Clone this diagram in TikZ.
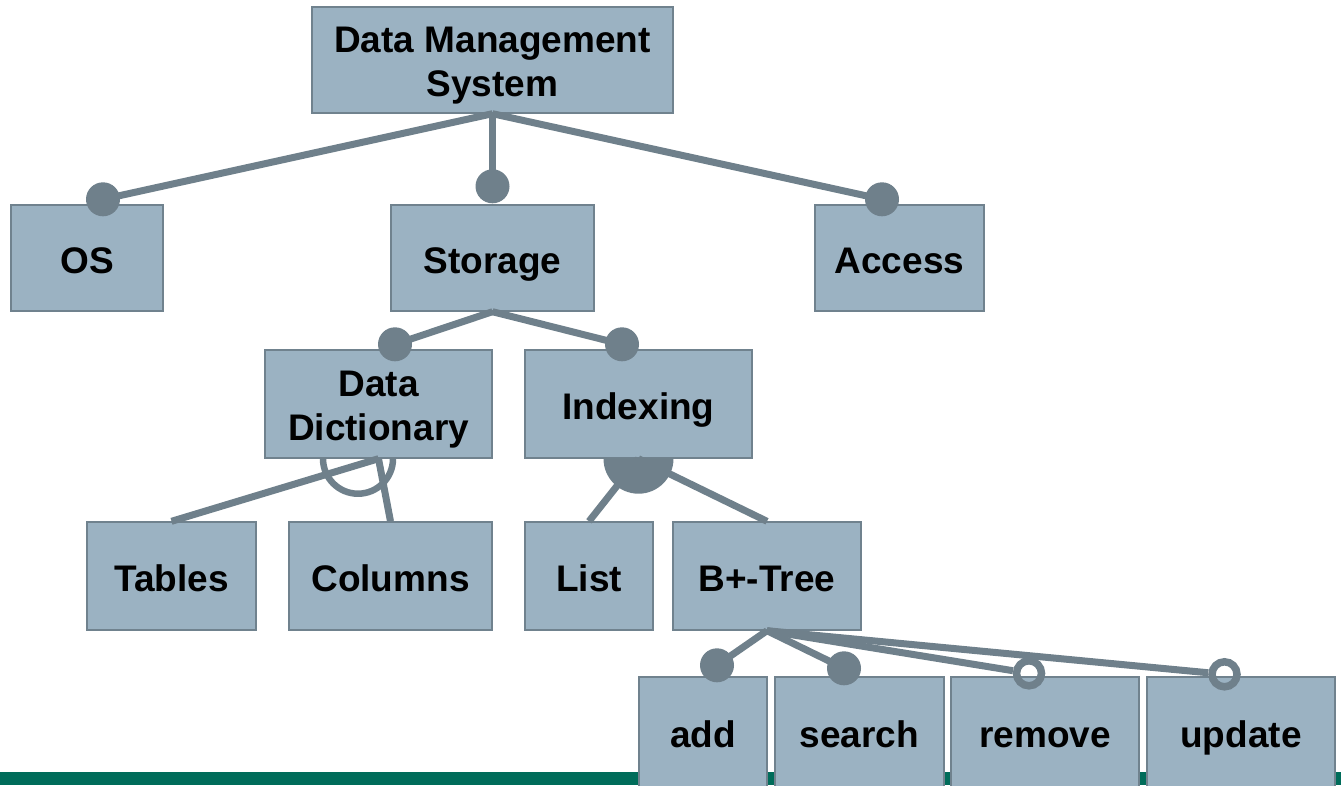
\documentclass[tikz,border=0pt]{standalone}
\usepackage{fontspec}
\setmainfont{Liberation Sans}
\definecolor{boxfill}{RGB}{155,178,194}
\definecolor{boxline}{RGB}{112,130,142}
\definecolor{linkcol}{RGB}{111,128,139}
\definecolor{barcol}{RGB}{0,108,90}
\begin{document}
\begin{tikzpicture}[x=1pt,y=-1pt,
  box/.style={draw=boxline, line width=1.4pt, fill=boxfill, inner sep=0pt,
    align=center, text height=30pt, text depth=0pt,
    font=\bfseries\fontsize{37}{43.5}\selectfont},
  twoline/.style={text height=72pt, text depth=0pt},
  link/.style={draw=linkcol, line width=7pt},
  mand/.style={circle, fill=linkcol, inner sep=0pt, minimum size=34pt},
  opt/.style={circle, draw=linkcol, line width=7.5pt, inner sep=0pt, minimum size=25pt}]
\useasboundingbox (0,0) rectangle (1341,785);
\clip (0,0) rectangle (1341,785);
% footer bar
\fill[barcol] (0,772) rectangle (1341,785);

% feature boxes
\node[box, twoline, minimum width=361pt, minimum height=106pt] (dms) at (492.5,60) {Data Management\\System};
\node[box, minimum width=152pt, minimum height=106pt] (os) at (87,258) {OS};
\node[box, minimum width=203pt, minimum height=106pt] (storage) at (492.5,258) {Storage};
\node[box, minimum width=169pt, minimum height=106pt] (access) at (899.5,258) {Access};
\node[box, twoline, minimum width=227pt, minimum height=108pt] (dd) at (378.5,404) {Data\\Dictionary};
\node[box, minimum width=227pt, minimum height=108pt] (idx) at (638.5,404) {Indexing};
\node[box, minimum width=169pt, minimum height=108pt] (tables) at (171.5,576) {Tables};
\node[box, minimum width=203pt, minimum height=108pt] (columns) at (390.5,576) {Columns};
\node[box, minimum width=128pt, minimum height=108pt] (list) at (589,576) {List};
\node[box, minimum width=188pt, minimum height=108pt] (btree) at (767,576) {B+-Tree};
\node[box, minimum width=128pt, minimum height=110pt] (add) at (703,732) {add};
\node[box, minimum width=169pt, minimum height=110pt] (search) at (859.5,732) {search};
\node[box, minimum width=188pt, minimum height=110pt] (remove) at (1045,732) {remove};
\node[box, minimum width=188pt, minimum height=110pt] (update) at (1241,732) {update};

% feature markers
\node[mand] (osj) at ([xshift=16pt,yshift=5pt]os.north) {};
\node[mand] (storagej) at ([yshift=18pt]storage.north) {};
\node[mand] (accessj) at ([xshift=-17.5pt,yshift=5pt]access.north) {};
\node[mand] (ddj) at ([xshift=16.5pt,yshift=5pt]dd.north) {};
\node[mand] (idxj) at ([xshift=-16.5pt,yshift=5pt]idx.north) {};
\node[mand] (addj) at ([xshift=14pt,yshift=11pt]add.north) {};
\node[mand] (searchj) at ([xshift=-15.5pt,yshift=8pt]search.north) {};
\node[opt] (removej) at ([xshift=-16pt,yshift=3pt]remove.north) {};
\node[opt] (updatej) at ([xshift=-16.5pt,yshift=2pt]update.north) {};

% mandatory children
\draw[link] (dms.south) -- (osj.center);
\draw[link] (dms.south) -- (storagej.center);
\draw[link] (dms.south) -- (accessj.center);
\draw[link] (storage.south) -- (ddj.center);
\draw[link] (storage.south) -- (idxj.center);
\draw[link] (btree.south) -- (addj.center);
\draw[link] (btree.south) -- (searchj.center);
% optional children
\draw[link] (btree.south) -- (removej);
\draw[link] (btree.south) -- (updatej);

% or-group (filled arc) and alternative group (open arc)
\fill[linkcol] ([xshift=-35pt]idx.south) arc (180:360:35pt) -- cycle;
\draw[link] (idx.south) -- (list.north);
\draw[link] (idx.south) -- (btree.north);
\draw[draw=linkcol, line width=6.5pt] ([xshift=-55.5pt]dd.south) arc (180:360:35pt);
\draw[link] (dd.south) -- (tables.north);
\draw[link] (dd.south) -- (columns.north);
\end{tikzpicture}
\end{document}
